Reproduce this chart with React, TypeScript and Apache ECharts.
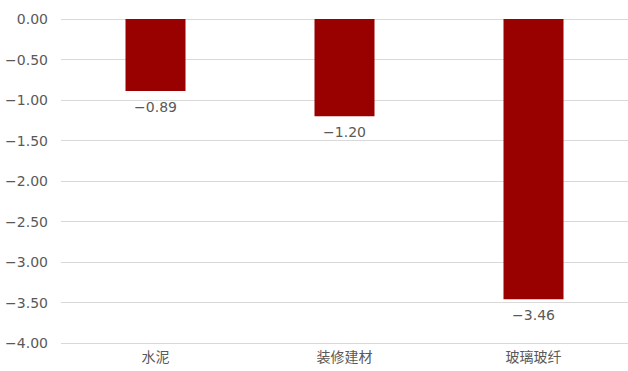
import React, { useEffect, useRef } from "react";
import * as echarts from "echarts";

const categories = ["水泥", "装修建材", "玻璃玻纤"];
const values = [-0.89, -1.2, -3.46];
const yMin = -4;
const yMax = 0;
const yInterval = 0.5;

const fmt = (v: number) => v.toFixed(2).replace("-", "\u2212");

export default function App() {
  const ref = useRef<HTMLDivElement>(null);
  useEffect(() => {
    if (!ref.current) return;
    const chart = echarts.init(ref.current, undefined, { renderer: "svg" });
    const numFont = "'DejaVu Sans', sans-serif";
    const cjkFont = "'Noto Sans CJK SC', sans-serif";
    chart.setOption({
      animation: false,
      grid: { left: 61, right: -3, top: 19, bottom: 28, containLabel: false },
      xAxis: {
        type: "category",
        data: categories,
        position: "bottom",
        axisLine: { show: false },
        axisTick: { show: false },
        axisLabel: {
          color: "#595959",
          fontSize: 14,
          fontFamily: cjkFont,
          margin: 6,
        },
      },
      yAxis: {
        type: "value",
        min: yMin,
        max: yMax,
        interval: yInterval,
        axisLine: { show: false },
        axisTick: { show: false },
        axisLabel: {
          color: "#595959",
          fontSize: 14,
          fontFamily: numFont,
          margin: 13,
          formatter: (v: number) => fmt(v),
        },
        splitLine: { lineStyle: { color: "#d9d9d9", width: 1 } },
      },
      series: [
        {
          type: "bar",
          data: values,
          barWidth: 60,
          itemStyle: { color: "#990000" },
          label: {
            show: true,
            position: "bottom",
            distance: 9,
            color: "#595959",
            fontSize: 14,
            fontFamily: numFont,
            formatter: (p: any) => fmt(Number(p.value)),
          },
        },
      ],
    });
    return () => chart.dispose();
  }, []);
  return (
    <div
      ref={ref}
      style={{ position: "fixed", left: 0, top: 0, width: 628, height: 371, background: "#fff" }}
    />
  );
}
